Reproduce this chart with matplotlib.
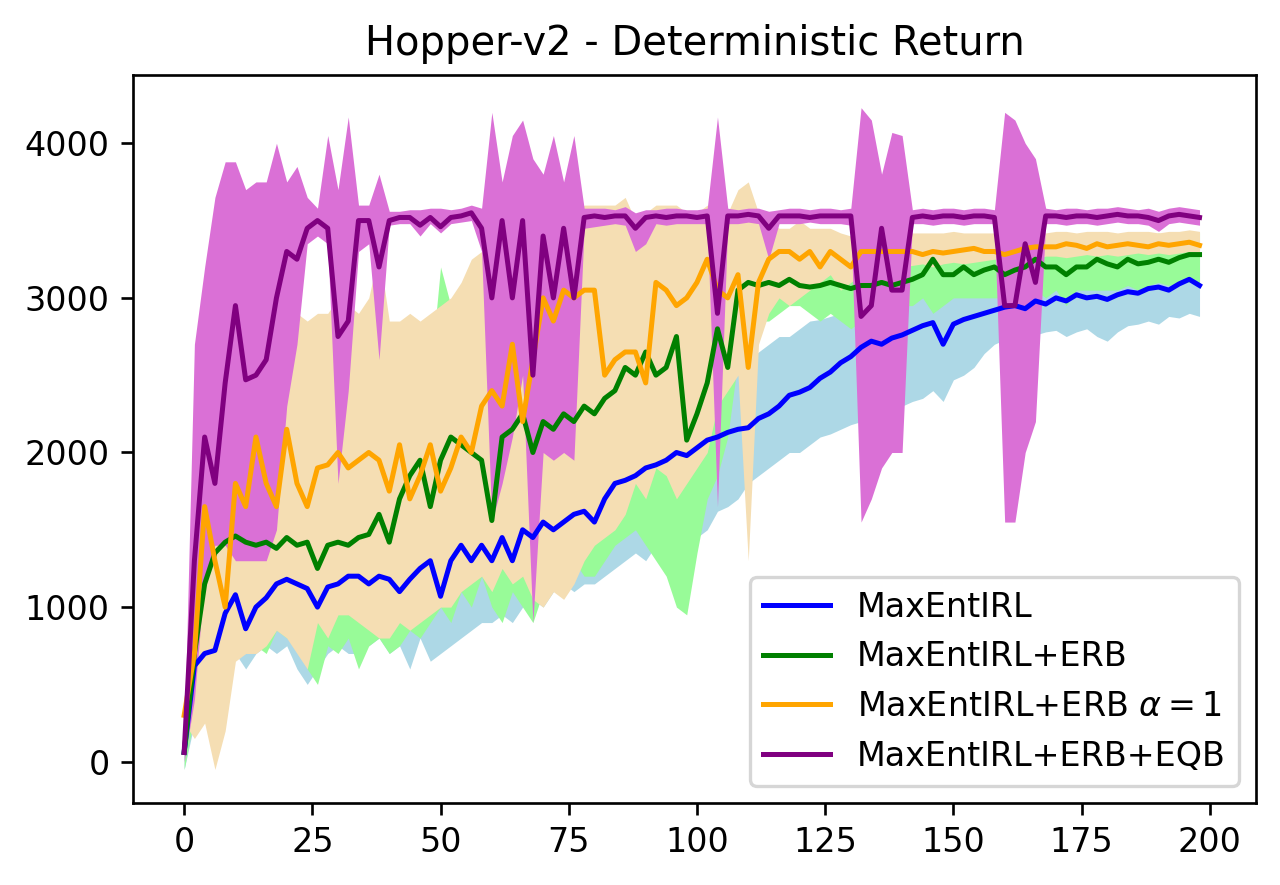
import matplotlib
matplotlib.use('Agg')
import matplotlib.pyplot as plt

# krok treningu (co 2 iteracje)
steps = list(range(0, 200, 2))

# MaxEntIRL
blue_mean = [
    60, 620, 700, 720, 960, 1080, 860, 1000, 1060, 1150,
    1180, 1150, 1120, 1000, 1130, 1150, 1200, 1200, 1150, 1200,
    1180, 1100, 1180, 1250, 1300, 1070, 1300, 1400, 1300, 1400,
    1300, 1450, 1300, 1500, 1450, 1550, 1500, 1550, 1600, 1620,
    1550, 1700, 1800, 1820, 1850, 1900, 1920, 1950, 2000, 1980,
    2030, 2080, 2100, 2130, 2150, 2160, 2220, 2250, 2300, 2370,
    2390, 2420, 2480, 2520, 2580, 2620, 2680, 2720, 2700, 2740,
    2760, 2790, 2820, 2840, 2700, 2830, 2860, 2880, 2900, 2920,
    2940, 2950, 2930, 2980, 2960, 3000, 2980, 3020, 3000, 3010,
    2990, 3020, 3040, 3030, 3060, 3070, 3050, 3090, 3120, 3080]
blue_low = [
    -50, 250, 400, 450, 550, 700, 600, 700, 750, 700,
    750, 600, 500, 600, 700, 750, 700, 700, 750, 800,
    700, 750, 600, 800, 650, 700, 750, 800, 850, 900,
    900, 950, 900, 1000, 1050, 1000, 1100, 1150, 1100, 1150,
    1150, 1200, 1250, 1300, 1350, 1300, 1400, 1450, 1500, 1550,
    1450, 1500, 1620, 1650, 1700, 1800, 1850, 1900, 1950, 2000,
    2000, 2050, 2100, 2120, 2150, 2180, 2200, 2250, 2250, 2300,
    2300, 2330, 2350, 2400, 2330, 2470, 2500, 2550, 2640, 2700,
    2730, 2750, 2720, 2760, 2780, 2790, 2750, 2780, 2800, 2750,
    2720, 2780, 2820, 2830, 2850, 2830, 2880, 2870, 2900, 2880]
blue_high = [
    150, 850, 900, 950, 1200, 1300, 1100, 1200, 1300, 1350,
    1400, 1350, 1300, 1250, 1350, 1400, 1400, 1400, 1350, 1400,
    1350, 1350, 1400, 1500, 1550, 1350, 1550, 1600, 1650, 1700,
    1700, 1750, 1800, 1850, 1800, 1900, 1900, 1950, 2000, 2050,
    2000, 2150, 2200, 2250, 2300, 2350, 2400, 2400, 2450, 2450,
    2450, 2500, 2500, 2520, 2550, 2600, 2650, 2700, 2750, 2750,
    2800, 2850, 2860, 2880, 2900, 2950, 2970, 3000, 3050, 3050,
    3100, 3100, 3100, 3150, 3150, 3150, 3200, 3200, 3200, 3200,
    3200, 3200, 3220, 3220, 3250, 3250, 3250, 3250, 3250, 3250,
    3250, 3250, 3280, 3280, 3300, 3300, 3300, 3300, 3300, 3300]

# MaxEntIRL+ERB
green_mean = [
    60, 700, 1150, 1350, 1420, 1460, 1420, 1400, 1420, 1380,
    1450, 1400, 1420, 1250, 1400, 1420, 1400, 1450, 1470, 1600,
    1420, 1700, 1850, 1950, 1650, 1950, 2100, 2050, 2000, 1950,
    1560, 2100, 2150, 2250, 2000, 2200, 2150, 2250, 2200, 2300,
    2250, 2350, 2400, 2550, 2500, 2650, 2500, 2550, 2750, 2080,
    2250, 2450, 2800, 2550, 3050, 3100, 3080, 3100, 3080, 3120,
    3080, 3070, 3080, 3100, 3080, 3060, 3080, 3080, 3100, 3080,
    3100, 3120, 3150, 3250, 3150, 3150, 3200, 3150, 3180, 3200,
    3150, 3180, 3200, 3250, 3200, 3200, 3150, 3200, 3200, 3250,
    3220, 3200, 3250, 3220, 3230, 3250, 3230, 3260, 3280, 3280]
green_low = [
    -50, 300, 500, 700, 900, 700, 800, 750, 700, 850,
    800, 750, 600, 500, 750, 700, 800, 600, 750, 800,
    700, 750, 850, 800, 900, 1000, 900, 1100, 1000, 1200,
    1000, 900, 1100, 1000, 900, 1100, 1200, 1100, 1300, 1200,
    1200, 1300, 1400, 1450, 1500, 1400, 1300, 1200, 1000, 950,
    1350, 1700, 1850, 2100, 2600, 2800, 2850, 2850, 2900, 2950,
    2950, 2900, 2850, 2900, 2850, 2800, 2850, 2900, 2950, 2900,
    2950, 2950, 3000, 2900, 2950, 3000, 3000, 3000, 3000, 3000,
    3000, 3020, 3000, 3050, 3000, 3050, 2950, 3050, 3050, 3050,
    3050, 3050, 3080, 3050, 3080, 3100, 3080, 3100, 3100, 3100]
green_high = [
    150, 900, 1500, 1600, 1700, 1800, 1700, 1700, 1650, 1700,
    1700, 1700, 1700, 1550, 1700, 1700, 1700, 1750, 1750, 1900,
    1800, 2200, 2500, 2700, 2500, 3200, 2950, 3050, 3050, 3000,
    2500, 2900, 3100, 3000, 2900, 3000, 3000, 3100, 3000, 3100,
    3100, 3200, 3200, 3300, 3400, 3400, 3550, 3580, 3500, 3300,
    3200, 3400, 3300, 3400, 3400, 3450, 3400, 3400, 3300, 3300,
    3300, 3250, 3300, 3300, 3350, 3300, 3300, 3300, 3300, 3300,
    3300, 3350, 3350, 3400, 3350, 3350, 3350, 3350, 3350, 3400,
    3400, 3380, 3400, 3400, 3400, 3380, 3400, 3400, 3400, 3420,
    3400, 3400, 3420, 3400, 3400, 3420, 3400, 3420, 3420, 3420]

# MaxEntIRL+ERB alpha=1
orange_mean = [
    300, 700, 1650, 1300, 1000, 1800, 1650, 2100, 1800, 1650,
    2150, 1800, 1650, 1900, 1920, 2000, 1900, 1950, 2000, 1950,
    1750, 2050, 1700, 1850, 2050, 1750, 1900, 2100, 2000, 2300,
    2400, 2300, 2700, 2200, 2600, 3000, 2850, 3050, 3000, 3050,
    3050, 2500, 2600, 2650, 2650, 2450, 3100, 3050, 2950, 3000,
    3100, 3250, 3050, 3000, 3150, 2550, 3100, 3250, 3300, 3300,
    3250, 3300, 3200, 3300, 3250, 3200, 3300, 3300, 3300, 3300,
    3300, 3300, 3280, 3300, 3290, 3300, 3310, 3320, 3300, 3300,
    3280, 3300, 3320, 3330, 3330, 3330, 3350, 3340, 3320, 3350,
    3330, 3340, 3350, 3340, 3330, 3350, 3340, 3350, 3360, 3340]
orange_low = [
    250, 150, 250, -50, 200, 650, 700, 700, 750, 850,
    800, 700, 600, 900, 800, 950, 950, 900, 850, 800,
    800, 900, 850, 900, 950, 1000, 1000, 1100, 1150, 1200,
    1100, 1250, 1150, 1200, 1050, 1000, 1100, 1050, 1150, 1300,
    1400, 1450, 1500, 1600, 1800, 1700, 1900, 1850, 1700, 1800,
    1900, 2000, 2300, 2400, 2500, 1300, 2700, 2900, 3000, 2950,
    3000, 3050, 3100, 3150, 3050, 3100, 3150, 3200, 3200, 3200,
    3200, 3210, 3220, 3200, 3220, 3230, 3220, 3230, 3240, 3250,
    3250, 3260, 3260, 3250, 3270, 3270, 3260, 3270, 3280, 3270,
    3280, 3270, 3280, 3290, 3280, 3290, 3280, 3290, 3300, 3290]
orange_high = [
    350, 1500, 2000, 1800, 1700, 2100, 2200, 2100, 2100, 2850,
    2850, 2900, 2850, 2900, 2900, 3000, 2950, 2900, 3000, 3300,
    2850, 2850, 2900, 2850, 2900, 2950, 3000, 3100, 3250, 3300,
    3450, 3500, 3550, 3500, 3500, 3550, 3600, 3600, 3550, 3600,
    3600, 3600, 3600, 3650, 3500, 3550, 3600, 3600, 3600, 3550,
    3550, 3600, 3500, 3550, 3700, 3750, 3550, 3500, 3450, 3450,
    3500, 3450, 3450, 3450, 3420, 3400, 3400, 3400, 3400, 3400,
    3400, 3420, 3420, 3420, 3420, 3430, 3420, 3420, 3420, 3420,
    3430, 3420, 3430, 3430, 3420, 3430, 3430, 3420, 3430, 3430,
    3430, 3420, 3430, 3430, 3430, 3420, 3430, 3430, 3440, 3430]

# MaxEntIRL+ERB+EQB
purple_mean = [
    60, 1300, 2100, 1800, 2450, 2950, 2470, 2500, 2600, 3000,
    3300, 3250, 3450, 3500, 3450, 2750, 2850, 3500, 3500, 3200,
    3500, 3520, 3520, 3470, 3520, 3460, 3520, 3530, 3550, 3450,
    3000, 3500, 3000, 3500, 2500, 3400, 3000, 3450, 3000, 3520,
    3530, 3520, 3530, 3530, 3450, 3520, 3530, 3520, 3530, 3530,
    3520, 3530, 2900, 3530, 3530, 3540, 3530, 3450, 3530, 3530,
    3530, 3520, 3530, 3530, 3530, 3530, 2880, 2950, 3450, 3050,
    3050, 3520, 3530, 3520, 3530, 3530, 3520, 3530, 3530, 3520,
    2950, 2950, 3350, 3100, 3530, 3530, 3520, 3530, 3530, 3520,
    3530, 3540, 3530, 3530, 3520, 3500, 3530, 3540, 3530, 3520]
purple_low = [
    0, 400, 1200, 1400, 1400, 1300, 1300, 1300, 1300, 1500,
    2300, 2700, 3350, 3400, 3350, 1800, 2400, 3300, 3350, 2600,
    3470, 3480, 3480, 3400, 3480, 3420, 3480, 3490, 3500, 3300,
    1550, 1800, 2100, 2500, 900, 2000, 1950, 2000, 1950, 3450,
    3460, 3470, 3480, 3470, 3300, 3350, 3480, 3470, 3480, 3480,
    3480, 3480, 1650, 3480, 3480, 3490, 3480, 3250, 3480, 3480,
    3480, 3490, 3480, 3480, 3480, 3470, 1550, 1700, 1900, 2000,
    2000, 3480, 3480, 3470, 3480, 3480, 3470, 3480, 3480, 3480,
    1550, 1550, 2000, 2200, 3480, 3480, 3470, 3480, 3480, 3470,
    3480, 3490, 3480, 3480, 3470, 3430, 3480, 3490, 3480, 3470]
purple_high = [
    120, 2700, 3200, 3650, 3880, 3880, 3700, 3750, 3750, 4000,
    3750, 3850, 3650, 3580, 4050, 3700, 4170, 3600, 3600, 3800,
    3560, 3560, 3570, 3570, 3580, 3580, 3570, 3580, 3600, 3580,
    4200, 3750, 4050, 4150, 3900, 3800, 4050, 3750, 4050, 3580,
    3580, 3580, 3570, 3590, 3550, 3570, 3570, 3580, 3580, 3570,
    3570, 3580, 4170, 3580, 3570, 3580, 3580, 3560, 3570, 3580,
    3580, 3570, 3580, 3580, 3570, 3580, 4230, 4150, 3800, 4070,
    4050, 3570, 3580, 3570, 3580, 3580, 3570, 3580, 3580, 3570,
    4200, 4150, 4000, 3900, 3580, 3570, 3580, 3580, 3570, 3580,
    3580, 3590, 3580, 3570, 3580, 3560, 3580, 3590, 3580, 3570]

labels = ['MaxEntIRL', 'MaxEntIRL+ERB', r'MaxEntIRL+ERB $\alpha=1$', 'MaxEntIRL+ERB+EQB']

fig = plt.figure(figsize=(1280 / 240, 885 / 240), dpi=240)
ax = fig.add_subplot(111)
fig.subplots_adjust(left=0.104, right=0.981, top=0.915, bottom=0.093)

# przedzialy
ax.fill_between(steps, blue_low, blue_high, color='lightblue', linewidth=0)
ax.fill_between(steps, green_low, green_high, color='palegreen', linewidth=0)
ax.fill_between(steps, orange_low, orange_high, color='wheat', linewidth=0)
ax.fill_between(steps, purple_low, purple_high, color='orchid', linewidth=0)

# srednie
ax.plot(steps, blue_mean, color='blue', label=labels[0])
ax.plot(steps, green_mean, color='green', label=labels[1])
ax.plot(steps, orange_mean, color='orange', label=labels[2])
ax.plot(steps, purple_mean, color='purple', label=labels[3])

ax.set_xlim(-9.95, 208.95)
ax.set_ylim(-265, 4440)
ax.set_xticks([0, 25, 50, 75, 100, 125, 150, 175, 200])
ax.set_yticks([0, 1000, 2000, 3000, 4000])
ax.set_title('Hopper-v2 - Deterministic Return')
ax.legend(loc='lower right')

fig.savefig('out.png', dpi=240)
